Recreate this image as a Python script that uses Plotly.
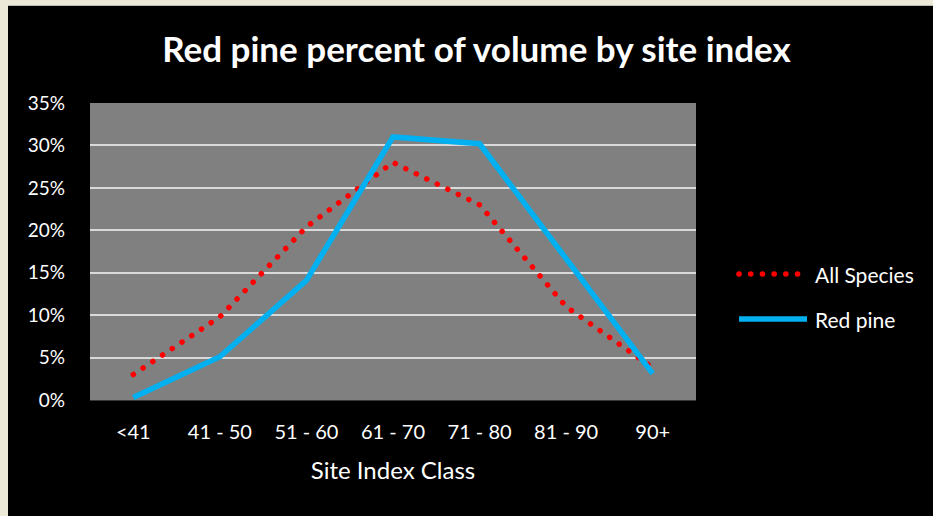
import plotly.graph_objects as go

categories = ["<41", "41 - 50", "51 - 60", "61 - 70", "71 - 80", "81 - 90", "90+"]
all_species = [3.0, 9.8, 20.4, 28.0, 23.0, 11.0, 3.8]
red_pine = [0.3, 5.1, 14.1, 31.0, 30.2, 16.6, 3.1]
y_ticks = [0, 5, 10, 15, 20, 25, 30, 35]
y_tick_labels = ["0%", "5%", "10%", "15%", "20%", "25%", "30%", "35%"]

W, H = 933, 516
ML, MR, MT, MB = 90, 237, 103, 116
PW, PH = W - ML - MR, H - MT - MB


def px_x(p):
    return (p - ML) / PW


def px_y(p):
    return (H - MB - p) / PH


FONT = "Lato"
RED = "#FF0000"
BLUE = "#00B0F0"
CREAM = "#ECE9D8"

fig = go.Figure()
fig.add_trace(go.Scatter(x=categories, y=all_species, mode="lines", name="All Species",
                         line=dict(color=RED, width=5.5, dash="5px,7px"), showlegend=False))
fig.add_trace(go.Scatter(x=categories, y=red_pine, mode="lines", name="Red pine",
                         line=dict(color=BLUE, width=5.5), showlegend=False))

shapes = [
    # cream window border
    dict(type="rect", xref="paper", yref="paper", x0=px_x(0), x1=px_x(8), y0=px_y(H), y1=px_y(0),
         fillcolor=CREAM, line=dict(width=0), layer="below"),
    dict(type="rect", xref="paper", yref="paper", x0=px_x(0), x1=px_x(W), y0=px_y(5), y1=px_y(0),
         fillcolor=CREAM, line=dict(width=0), layer="below"),
    dict(type="line", xref="paper", yref="paper", x0=px_x(8), x1=px_x(W), y0=px_y(5.5), y1=px_y(5.5),
         line=dict(color="#B8B8B8", width=1)),
    # custom legend symbols
    dict(type="line", xref="paper", yref="paper", x0=px_x(739), x1=px_x(802), y0=px_y(274), y1=px_y(274),
         line=dict(color=RED, width=5.5, dash="5px,7px")),
    dict(type="line", xref="paper", yref="paper", x0=px_x(739), x1=px_x(807), y0=px_y(319), y1=px_y(319),
         line=dict(color=BLUE, width=5.5)),
]

annotations = [
    dict(text="All Species", xref="paper", yref="paper", x=px_x(813), y=px_y(274), xanchor="left",
         yanchor="middle", showarrow=False, font=dict(family=FONT, size=21, color="white")),
    dict(text="Red pine", xref="paper", yref="paper", x=px_x(813), y=px_y(319), xanchor="left",
         yanchor="middle", showarrow=False, font=dict(family=FONT, size=21, color="white")),
]

fig.update_layout(
    width=W, height=H,
    margin=dict(l=ML, r=MR, t=MT, b=MB, autoexpand=False),
    paper_bgcolor="black",
    plot_bgcolor="#808080",
    font=dict(family=FONT, color="white", size=19),
    title=dict(text="<b>Red pine percent of volume by site index</b>", x=476.5 / W, xref="container",
               xanchor="center", y=1 - 50 / H, yref="container", yanchor="middle",
               font=dict(family=FONT, size=35, color="white")),
    showlegend=False,
    shapes=shapes,
    annotations=annotations,
    xaxis=dict(type="category", range=[-0.5, 6.5], showgrid=False, zeroline=False,
               showline=True, linecolor="#3A3A3A", linewidth=1, ticks="", ticklabelstandoff=14,
               tickfont=dict(family=FONT, size=20, color="white"),
               title=dict(text="Site Index Class", standoff=20, font=dict(family=FONT, size=24, color="white"))),
    yaxis=dict(range=[0, 35], tickvals=y_ticks, ticktext=y_tick_labels, showgrid=True,
               gridcolor="#D9D9D9", gridwidth=1.5, zeroline=False, showline=False, ticks="",
               ticklabelstandoff=24, tickfont=dict(family=FONT, size=19, color="white")),
)

post = """
document.documentElement.style.margin='0';
document.body.style.margin='0';
document.body.style.padding='0';
var gd = document.getElementById('{plot_id}');
function roundDots(){
  gd.querySelectorAll('path').forEach(function(p){
    if (p.style.stroke === 'rgb(255, 0, 0)') {
      p.style.strokeLinecap = 'round';
      p.style.strokeDasharray = '0.1px,11.6px';
    }
  });
}
roundDots();
gd.on('plotly_afterplot', roundDots);
"""

fig.write_html("out.html", post_script=post, config={"displayModeBar": False})
